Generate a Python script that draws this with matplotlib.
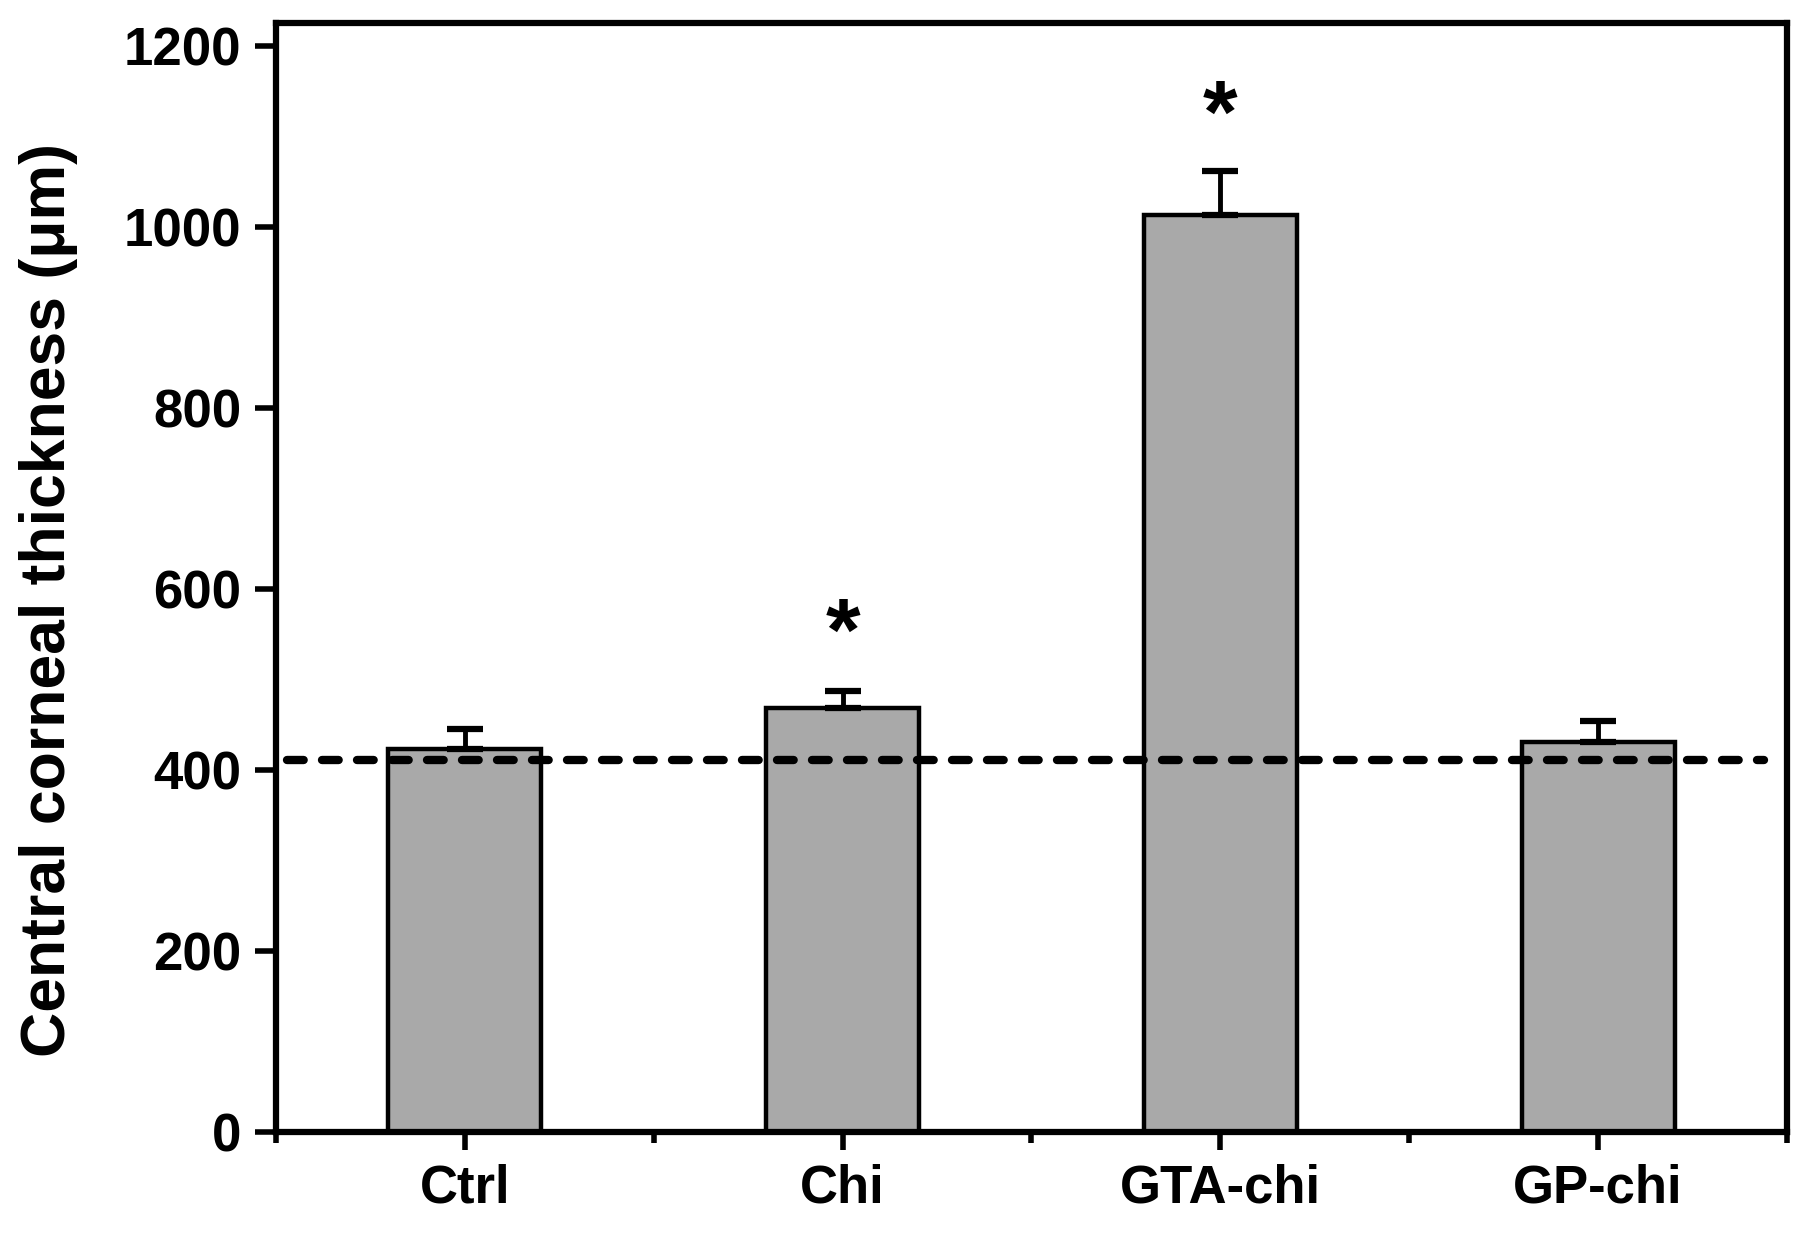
import matplotlib
matplotlib.use("Agg")
import matplotlib.pyplot as plt
import numpy as np

groups = ["Ctrl", "Chi", "GTA-chi", "GP-chi"]
thickness = [423, 468, 1013, 431]
err = [22, 19, 49, 23]
stars = ["", "*", "*", ""]
star_y = [0, 547, 1120, 0]
baseline = 411

plt.rcParams['font.family'] = ['Liberation Sans', 'DejaVu Sans']
plt.rcParams['font.weight'] = 'bold'

fig = plt.figure(figsize=(18.16, 12.34), dpi=100)
ax = fig.add_axes([0.152, 0.083, 0.832, 0.898])

x = np.arange(1, len(groups) + 1)
ax.bar(x, thickness, width=0.405, color="#a9a9a9", edgecolor="black", linewidth=3.2, zorder=2)
ax.errorbar(x, thickness, yerr=[np.zeros(len(err)), err], fmt="none", ecolor="black",
            elinewidth=3.5, capsize=13, capthick=4.5, zorder=3)
ax.plot([0.53, 4.44], [baseline, baseline], color="black", linewidth=6,
        dashes=(2.0, 2.2), dash_capstyle="round", zorder=4)
for xi, s, sy in zip(x, stars, star_y):
    if s:
        ax.text(xi, sy, s, ha="center", va="center", fontsize=64, fontweight="bold")

ax.set_xlim(0.5, 4.5)
ax.set_ylim(0, 1225)
ax.set_yticks(np.arange(0, 1201, 200))
ax.set_xticks(x)
ax.set_xticklabels(groups)
ax.set_xticks([0.5, 1.5, 2.5, 3.5, 4.5], minor=True)
ax.tick_params(axis="both", which="major", direction="out", length=13, width=4, labelsize=38, pad=10)
ax.tick_params(axis="x", which="minor", direction="out", length=8, width=4)
ax.tick_params(axis="y", which="major", length=15)
for sp in ax.spines.values():
    sp.set_linewidth(4.5)
ax.set_ylabel("Central corneal thickness (\u03bcm)", fontsize=45, fontweight="bold")
ax.yaxis.set_label_coords(-0.131, 0.48)

fig.savefig("out.png", dpi=100)
